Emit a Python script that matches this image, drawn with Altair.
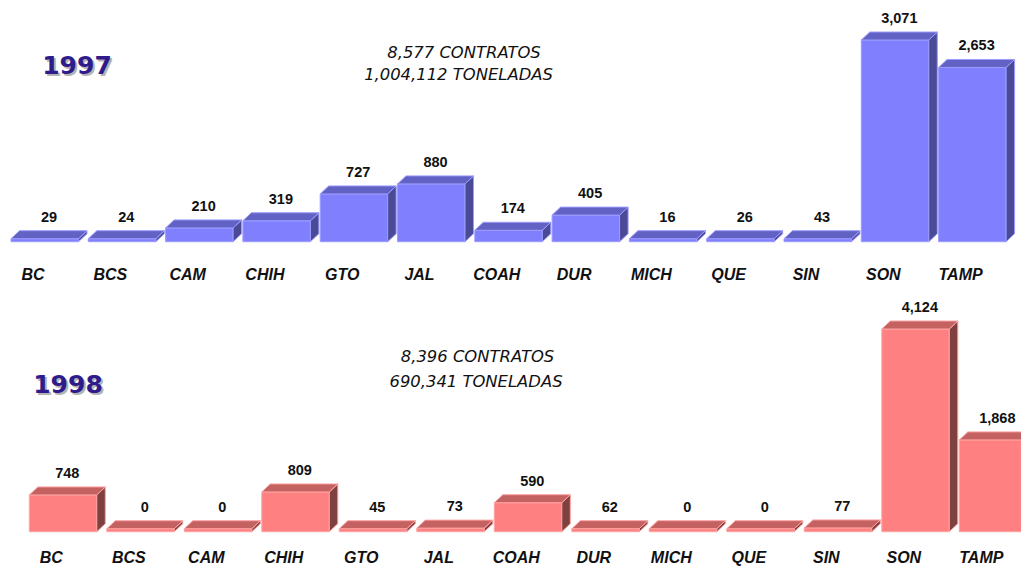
import altair as alt
import pandas as pd

# ---- data ----
states = ["BC", "BCS", "CAM", "CHIH", "GTO", "JAL", "COAH", "DUR", "MICH", "QUE", "SIN", "SON", "TAMP"]
v1997 = [29, 24, 210, 319, 727, 880, 174, 405, 16, 26, 43, 3071, 2653]
v1998 = [748, 0, 0, 809, 45, 73, 590, 62, 0, 0, 77, 4124, 1868]
years = ["1997", "1998"]
contratos = ["8,577 CONTRATOS", "8,396 CONTRATOS"]
toneladas = ["1,004,112 TONELADAS", "690,341 TONELADAS"]

# ---- layout / style constants ----
W, H = 1013, 560
FRONT_PX, DX_PX, DY_PX, MIN_PX = 67.5, 8.5, 8.0, 3.0
LABEL_FONT = "Liberation Sans"
TITLE_FONT = "DejaVu Sans"

BLUE = ("#8080ff", "#4a4a96", "#6262c4", "#9c9cff")
RED = ("#ff8080", "#7f4040", "#c46262", "#ffa3a3")


def panel(values, year, line1, line2, slot, origin, base, k, colors,
          year_xy, sub1_xy, sub2_xy, cat_dy):
    front_c, side_c, top_c, edge_c = colors
    fw = FRONT_PX / slot
    ddx = DX_PX / slot
    ddy = DY_PX / k
    bars, side_rows, top_rows = [], [], []
    for i, (s, v) in enumerate(zip(states, values)):
        top = max(v, MIN_PX / k)
        xl, xr = i, i + fw
        bars.append(dict(state=s, value=v, label=f"{v:,}", xl=xl, xr=xr,
                         top=top, zero=0, xc=i + fw / 2 + ddx / 2,
                         xlab=i + 22 / slot))
        side_rows += [dict(state=s, x=xr, y=top, y2=0),
                      dict(state=s, x=xr + ddx, y=top + ddy, y2=ddy)]
        top_rows += [dict(state=s, x=xl, y=top, y2=top),
                     dict(state=s, x=xl + ddx, y=top + ddy, y2=top),
                     dict(state=s, x=xr, y=top + ddy, y2=top),
                     dict(state=s, x=xr + ddx, y=top + ddy, y2=top + ddy)]
    bars = pd.DataFrame(bars)
    side_df = pd.DataFrame(side_rows)
    top_df = pd.DataFrame(top_rows)

    xs = alt.Scale(domain=[-origin / slot, (W - origin) / slot], nice=False, zero=False)
    ys = alt.Scale(domain=[-(H - base) / k, base / k], nice=False, zero=False)

    front = alt.Chart(bars).mark_rect(fill=front_c, stroke=edge_c, strokeWidth=1).encode(
        x=alt.X("xl:Q", scale=xs, axis=None), x2="xr:Q",
        y=alt.Y("zero:Q", scale=ys, axis=None), y2="top:Q")
    side = alt.Chart(side_df).mark_area(fill=side_c, stroke=edge_c, strokeWidth=1,
                                        interpolate="linear").encode(
        x=alt.X("x:Q", scale=xs, axis=None),
        y=alt.Y("y:Q", scale=ys, axis=None), y2="y2:Q", detail="state:N")
    topf = alt.Chart(top_df).mark_area(fill=top_c, stroke=edge_c, strokeWidth=1,
                                       interpolate="linear").encode(
        x=alt.X("x:Q", scale=xs, axis=None),
        y=alt.Y("y:Q", scale=ys, axis=None), y2="y2:Q", detail="state:N")
    vlabels = alt.Chart(bars).mark_text(font=LABEL_FONT, fontSize=14.5, fontWeight="bold",
                                        color="#111111", baseline="alphabetic",
                                        dy=-(DY_PX + 9)).encode(
        x=alt.X("xc:Q", scale=xs, axis=None),
        y=alt.Y("top:Q", scale=ys, axis=None), text="label:N")
    clabels = alt.Chart(bars).mark_text(font=LABEL_FONT, fontSize=16, fontWeight="bold",
                                        fontStyle="italic", color="#111111",
                                        baseline="alphabetic", dy=cat_dy).encode(
        x=alt.X("xlab:Q", scale=xs, axis=None),
        y=alt.Y("zero:Q", scale=ys, axis=None), text="state:N")

    ydf = pd.DataFrame({"t": [year]})
    yshadow = alt.Chart(ydf).mark_text(font=TITLE_FONT, fontSize=25, fontWeight="bold",
                                       color="#b4b4b4", baseline="alphabetic").encode(
        x=alt.value(year_xy[0] + 2), y=alt.value(year_xy[1] + 2), text="t:N")
    ytext = alt.Chart(ydf).mark_text(font=TITLE_FONT, fontSize=25, fontWeight="bold",
                                     color="#2e1b8c", baseline="alphabetic").encode(
        x=alt.value(year_xy[0]), y=alt.value(year_xy[1]), text="t:N")
    s1 = alt.Chart(pd.DataFrame({"t": [line1]})).mark_text(
        font=TITLE_FONT, fontSize=16.4, fontStyle="italic", color="#111111",
        baseline="alphabetic").encode(x=alt.value(sub1_xy[0]), y=alt.value(sub1_xy[1]), text="t:N")
    s2 = alt.Chart(pd.DataFrame({"t": [line2]})).mark_text(
        font=TITLE_FONT, fontSize=16.4, fontStyle="italic", color="#111111",
        baseline="alphabetic").encode(x=alt.value(sub2_xy[0]), y=alt.value(sub2_xy[1]), text="t:N")

    return alt.layer(front, side, topf, vlabels, clabels, yshadow, ytext, s1, s2)


p1 = panel(v1997, years[0], contratos[0], toneladas[0], slot=77.3, origin=3.0,
           base=233.7, k=201.7 / 3071, colors=BLUE, year_xy=(69, 66),
           sub1_xy=(456, 49.5), sub2_xy=(450.5, 71.5), cat_dy=38.3)
p2 = panel(v1998, years[1], contratos[1], toneladas[1], slot=77.5, origin=21.3,
           base=523.7, k=202.7 / 4124, colors=RED, year_xy=(60, 385),
           sub1_xy=(469.5, 353.7), sub2_xy=(468, 378.7), cat_dy=31.3)

chart = alt.layer(p1, p2).resolve_scale(x="independent", y="independent").properties(
    width=W, height=H, padding=0, background="white",
    autosize=alt.AutoSizeParams(type="none"),
).configure_view(stroke=None)

chart.save("out.html", embed_options={"renderer": "svg", "actions": False})
